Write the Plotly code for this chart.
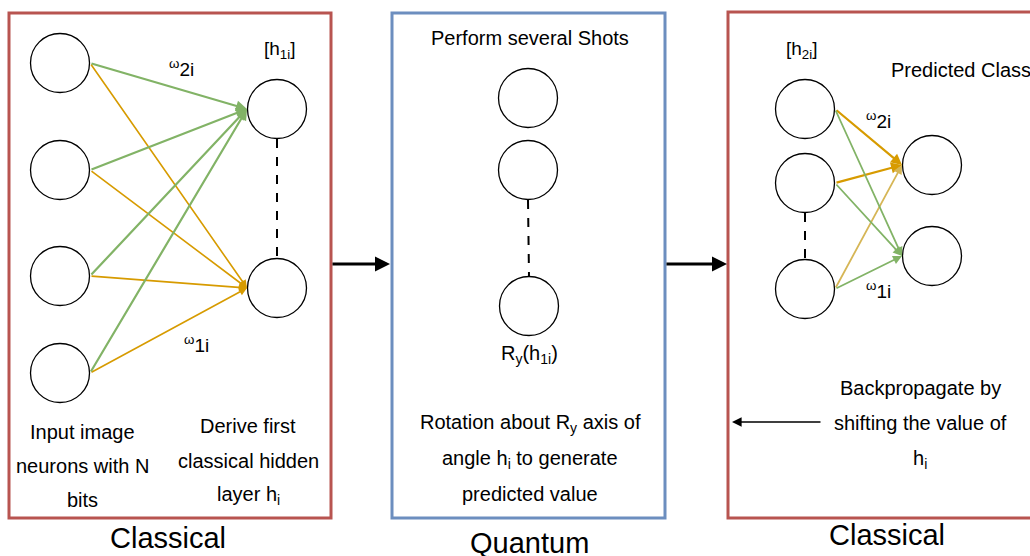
import plotly.graph_objects as go

# ---- node data (pixel-space diagram coordinates) ----
input_x = [60, 60, 60, 60]
input_y = [63, 170, 276, 373]
hidden1_x = [277, 277]
hidden1_y = [109, 288]
quantum_x = [528, 528, 529]
quantum_y = [98, 170, 306]
hidden2_x = [805, 805, 805]
hidden2_y = [109, 183, 289]
output_x = [932, 932]
output_y = [165, 256]
R = 30

# edges
left_edges_green = [0, 1, 2, 3]     # input i -> hidden1[0]
left_edges_orange = [0, 1, 2, 3]    # input i -> hidden1[1]
right_edges = [  # (hidden2 idx, output idx, colour, width)
    (0, 0, "#d79b00", 2.2),
    (1, 0, "#d79b00", 2.2),
    (2, 0, "#d6b656", 1.8),
    (0, 1, "#82b366", 1.8),
    (1, 1, "#82b366", 1.8),
    (2, 1, "#82b366", 1.8),
]

FONT = "Liberation Sans, Arial, Helvetica, sans-serif"

fig = go.Figure()
shapes = []
ann = []

# boxes
boxes = [(9, 13, 331, 518, "#b85450"), (392, 13, 665, 518, "#6c8ebf"), (728, 12, 1060, 518, "#b85450")]
for x0, y0, x1, y1, c in boxes:
    shapes.append(dict(type="rect", xref="x", yref="y", x0=x0, y0=y0, x1=x1, y1=y1,
                       line=dict(color=c, width=3), fillcolor="rgba(0,0,0,0)", layer="below"))

def arrow(x, y, ax, ay, color, width, head=2, size=1.0):
    ann.append(dict(x=x, y=y, ax=ax, ay=ay, xref="x", yref="y", axref="x", ayref="y",
                    text="", showarrow=True, arrowhead=head, arrowsize=size,
                    arrowwidth=width, arrowcolor=color, standoff=0, startstandoff=0))

# left panel edges
for i in left_edges_orange:
    arrow(hidden1_x[1] - R, hidden1_y[1], input_x[i] + R, input_y[i], "#d79b00", 1.6)
for i in left_edges_green:
    arrow(hidden1_x[0] - R, hidden1_y[0], input_x[i] + R, input_y[i], "#82b366", 2.2)

# right panel edges
for s, t, c, w in right_edges:
    arrow(output_x[t] - R, output_y[t], hidden2_x[s] + R, hidden2_y[s], c, w)

# dashed connectors
def dashed(xa, ya, xb, yb):
    shapes.append(dict(type="line", xref="x", yref="y", x0=xa, y0=ya, x1=xb, y1=yb,
                       line=dict(color="black", width=2, dash="dash")))
dashed(hidden1_x[0], hidden1_y[0] + R, hidden1_x[1], hidden1_y[1] - R)
dashed(quantum_x[1], quantum_y[1] + R, quantum_x[2], quantum_y[2] - R)
dashed(hidden2_x[1], hidden2_y[1] + R, hidden2_x[2], hidden2_y[2] - R)

# arrows between boxes
arrow(390, 264, 331, 264, "black", 3, head=2, size=1.0)
arrow(727, 264, 665, 264, "black", 3, head=2, size=1.0)
# backprop arrow
arrow(732, 422, 822, 422, "black", 1.6, head=2, size=1.2)

# nodes
all_x = input_x + hidden1_x + quantum_x + hidden2_x + output_x
all_y = input_y + hidden1_y + quantum_y + hidden2_y + output_y
fig.add_trace(go.Scatter(x=all_x, y=all_y, mode="markers",
                         marker=dict(symbol="circle", size=2 * R - 1, color="white",
                                     line=dict(color="black", width=1.3)),
                         hoverinfo="skip", showlegend=False))

def text(x, y, s, size=20, xanchor="center"):
    ann.append(dict(x=x, y=y, xref="x", yref="y", text=s, showarrow=False,
                    xanchor=xanchor, yanchor="middle",
                    font=dict(family=FONT, size=size, color="black")))

# labels left
text(181, 68, "<sup>ω</sup>2i", 19)
text(280, 50, "[h<sub>1i</sub>]", 19)
text(196, 344, "<sup>ω</sup>1i", 19)
for yy, s in zip([432, 466, 500], ["Input image", "neurons with N", "bits"]):
    text(82, yy, s)
for yy, s in zip([426, 461, 495], ["Derive first", "classical hidden", "layer h<sub>i</sub>"]):
    text(248, yy, s)
text(168, 538, "Classical", 29)

# middle
text(530, 38, "Perform several Shots")
text(529, 354, "R<sub>y</sub>(h<sub>1i</sub>)")
for yy, s in zip([423, 459, 494], ["Rotation about R<sub>y</sub> axis of", "angle h<sub>i</sub> to generate", "predicted value"]):
    text(530, yy, s)
text(529, 543, "Quantum", 29)

# right
text(802, 50, "[h<sub>2i</sub>]", 19)
text(878, 120, "<sup>ω</sup>2i", 19)
text(878, 290, "<sup>ω</sup>1i", 19)
for yy, s in zip([388, 423, 459], ["Backpropagate by", "shifting the value of", "h<sub>i</sub>"]):
    text(920, yy, s)
text(887, 535, "Classical", 29)

fig.add_trace(go.Scatter(x=[891], y=[72], mode="text", text=["Predicted Classes"],
                         textposition="middle right", cliponaxis=True,
                         textfont=dict(family=FONT, size=20, color="black"),
                         hoverinfo="skip", showlegend=False))

fig.update_layout(
    width=1030, height=556, margin=dict(l=0, r=0, t=0, b=0),
    paper_bgcolor="white", plot_bgcolor="white",
    shapes=shapes, annotations=ann,
    xaxis=dict(range=[0, 1030], visible=False, fixedrange=True),
    yaxis=dict(range=[556, 0], visible=False, fixedrange=True),
)
fig.write_html("out.html", config={"displayModeBar": False},
               post_script="document.body.style.margin='0';document.body.style.overflow='hidden';")
